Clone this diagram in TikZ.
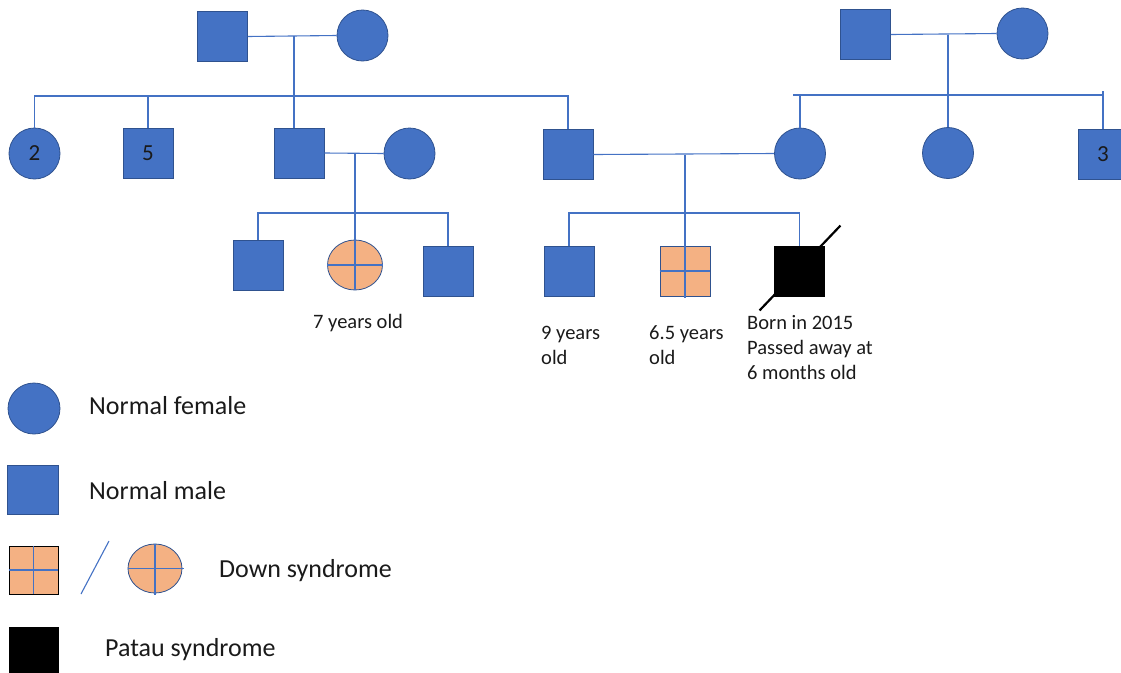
\documentclass[tikz,border=0pt]{standalone}
\usepackage{fontspec}
\setmainfont{Carlito}
\usetikzlibrary{shapes.geometric}
\definecolor{pblue}{HTML}{4472C4}
\definecolor{pedge}{HTML}{2F528F}
\definecolor{porange}{HTML}{F4B183}
\definecolor{ptext}{HTML}{1A1A1A}
\begin{document}
\begin{tikzpicture}[x=1pt,y=-1pt,
  sq/.style={rectangle, draw=pedge, fill=pblue, line width=0.8pt, minimum width=50pt, minimum height=50pt, inner sep=0pt, text=ptext, font=\fontsize{23}{27}\selectfont},
  ci/.style={ellipse, draw=pedge, fill=pblue, line width=0.8pt, minimum width=51pt, minimum height=51pt, inner sep=0pt, text=ptext, font=\fontsize{23}{27}\selectfont},
  dsq/.style={sq, fill=porange},
  dci/.style={ci, fill=porange, minimum width=55pt, minimum height=50pt},
  psq/.style={sq, fill=black, draw=black},
  link/.style={draw=pblue, line width=1.1pt},
  lbl/.style={anchor=base west, inner sep=0pt, text=ptext, font=\fontsize{20.5}{25}\selectfont},
  leg/.style={anchor=base west, inner sep=0pt, text=ptext, font=\fontsize{26}{31}\selectfont}]
\useasboundingbox (0,0) rectangle (1121,672);

% generation I
\node[sq] (m1) at (222.5,36.5) {};
\node[ci] (f1) at (362.5,35.5) {};
\node[sq] (m2) at (865.5,34.5) {};
\node[ci] (f2) at (1022.5,33.5) {};

% generation II
\node[ci] (c1) at (34.5,153.5) {2};
\node[sq] (c2) at (148,153) {5};
\node[sq] (c3) at (299,153) {};
\node[ci] (w3) at (409.5,153.5) {};
\node[sq] (c4) at (568,154.5) {};
\node[ci] (w4) at (800,153.5) {};
\node[ci] (rc2) at (948,153) {};
\node[sq] (rc3) at (1103,154.5) {3};

% generation III
\node[sq] (g1) at (258,265) {};
\node[dci] (g2) at (355,265) {};
\node[sq] (g3) at (448,271.5) {};
\node[sq] (g4) at (569,271) {};
\node[dsq] (g5) at (685,271) {};
\node[psq] (g6) at (799.5,271) {};

% connectors, left family
\coordinate (j1) at (294,36);
\coordinate (s1) at (0,96);
\draw[link] (m1.east) -- (f1.west);
\draw[link] (j1) -- (j1 |- c3.north);
\draw[link] (c1.north) -- (c1.north |- s1) -- (c4.north |- s1) -- (c4.north);
\draw[link] (c2.north) -- (c2.north |- s1);

% connectors, right family
\coordinate (j2) at (948,35);
\coordinate (s2) at (0,95);
\draw[link] (m2.east) -- (f2.west);
\draw[link] (j2) -- (rc2.north);
\draw[link] (w4.north) -- (w4.north |- s2);
\draw[link] ([xshift=-7pt]w4.north |- s2) -- (rc3.north |- s2);
\draw[link] (rc3.north) -- ([yshift=4pt]rc3.north |- s2);

% couple c3 + w3
\coordinate (j3) at (355,153);
\coordinate (s3) at (0,213);
\draw[link] (c3.east) -- (w3.west);
\draw[link] (j3) -- (g2.north);
\draw[link] (g1.north) -- (g1.north |- s3) -- (g3.north |- s3) -- (g3.north);
\draw[link] (g2.north) -- (g2.south);
\draw[link] (g2.west) -- (g2.east);

% couple c4 + w4
\coordinate (j4) at (685,154.5);
\draw[link] (c4.east) -- (w4.west);
\draw[link] (j4) -- (g5.north);
\draw[link] (g4.north) -- (g4.north |- s3) -- (g6.north |- s3) -- (g6.north);
\draw[link] (g5.north) -- ([yshift=-2pt]g5.south);
\draw[link] (g5.west) -- (g5.east);
\draw[line width=2.2pt] ([shift={(-14.5,14)}]g6.south west) -- ([shift={(15.5,-20)}]g6.north east);

% labels
\node[lbl] (t1) at (313,328) {7 years old};
\node[lbl] (t2) at (541,339) {\begin{tabular}[t]{@{}l@{}}9 years\\old\end{tabular}};
\node[lbl] (t3) at (649,339) {\begin{tabular}[t]{@{}l@{}}6.5 years\\old\end{tabular}};
\node[lbl] (t4) at (747,329) {\begin{tabular}[t]{@{}l@{}}Born in 2015\\Passed away at\\6 months old\end{tabular}};

% legend
\node[ci, minimum width=52pt] (lf) at (34,408.5) {};
\node[leg] (tf) at (89,414) {Normal female};
\node[sq, minimum width=51pt, minimum height=49pt] (lm) at (33,489.5) {};
\node[leg] (tm) at (89,499) {Normal male};
\node[dsq, draw=black, minimum width=49pt, minimum height=48pt] (ld) at (33.5,570) {};
\draw[link] (ld.north) -- (ld.south);
\draw[link] (ld.west) -- (ld.east);
\coordinate (sl1) at (81,594);
\coordinate (sl2) at (109,541);
\draw[draw=pblue, line width=1.1pt] (sl1) -- (sl2);
\node[dci, minimum width=54pt, minimum height=49pt] (lc) at (155,568.5) {};
\draw[link] (lc.north) -- ([yshift=-2pt]lc.south);
\draw[link] (lc.west) -- ([xshift=2pt]lc.east);
\node[leg] (td) at (219,577) {Down syndrome};
\node[psq, minimum width=49pt, minimum height=49pt] (lp) at (33.5,651.5) {};
\node[leg] (tp) at (105,656) {Patau syndrome};
\end{tikzpicture}
\end{document}
